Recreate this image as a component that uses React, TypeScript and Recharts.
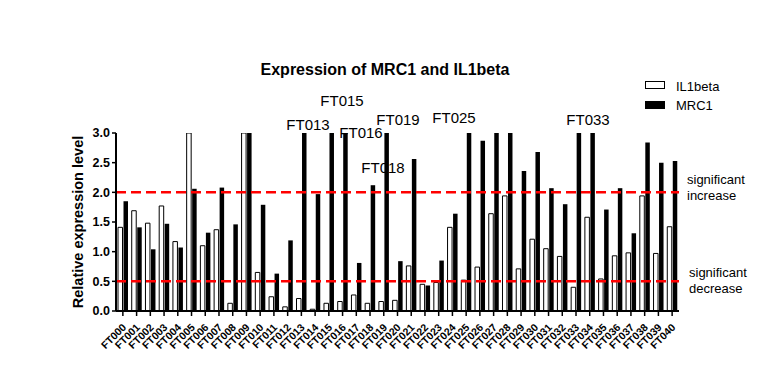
import React from 'react';
import { BarChart, Bar, XAxis, YAxis, ReferenceLine } from 'recharts';

const samples = [
  'FT000', 'FT001', 'FT002', 'FT003', 'FT004', 'FT005', 'FT006', 'FT007', 'FT008', 'FT009',
  'FT010', 'FT011', 'FT012', 'FT013', 'FT014', 'FT015', 'FT016', 'FT017', 'FT018', 'FT019',
  'FT020', 'FT021', 'FT022', 'FT023', 'FT024', 'FT025', 'FT026', 'FT027', 'FT028', 'FT029',
  'FT030', 'FT031', 'FT032', 'FT033', 'FT034', 'FT035', 'FT036', 'FT037', 'FT038', 'FT039',
  'FT040',
];

// values above 3.0 are clipped by the axis in the original
const il1beta = [
  1.41, 1.69, 1.48, 1.77, 1.17, 3.0, 1.1, 1.37, 0.13, 3.0,
  0.65, 0.24, 0.07, 0.21, 0.03, 0.13, 0.16, 0.27, 0.13, 0.16,
  0.18, 0.76, 0.45, 0.48, 1.41, 0.52, 0.74, 1.64, 1.94, 0.71,
  1.21, 1.05, 0.92, 0.4, 1.58, 0.54, 0.93, 0.98, 1.94, 0.97,
  1.42,
];

const mrc1 = [
  1.85, 1.41, 1.04, 1.47, 1.07, 2.06, 1.32, 2.08, 1.46, 3.0,
  1.79, 0.63, 1.19, 3.0, 1.97, 3.0, 3.0, 0.81, 2.12, 3.0,
  0.84, 2.56, 0.43, 0.85, 1.64, 3.0, 2.87, 3.0, 3.0, 2.36,
  2.68, 2.07, 1.8, 3.0, 3.0, 1.71, 2.07, 1.31, 2.84, 2.5,
  2.53,
];

const yTicks = [0, 0.5, 1, 1.5, 2, 2.5, 3];
const thresholds = [2.0, 0.5];

const callouts = ['FT015', 'FT013', 'FT016', 'FT019', 'FT025', 'FT033', 'FT018'];

const data = samples.map((name, i) => ({ name, il1beta: il1beta[i], mrc1: mrc1[i] }));

const font = '"Liberation Sans", Arial, sans-serif';

const XTick = (props: any) => {
  const { x, y, payload } = props;
  return (
    <text
      x={x + 4}
      y={y + 10}
      textAnchor="end"
      transform={`rotate(-45, ${x + 4}, ${y + 10})`}
      fontSize={10.5}
      fontWeight="bold"
      fontFamily={font}
      fill="#000"
    >
      {payload.value}
    </text>
  );
};

const calloutPos: Record<string, [number, number]> = {
  FT015: [342, 106],
  FT013: [308, 130],
  FT016: [361, 138],
  FT019: [398, 125],
  FT025: [454, 123],
  FT033: [588, 125],
  FT018: [383, 173],
};

export default function App() {
  return (
    <div style={{ position: 'absolute', left: 0, top: 0, width: 776, height: 388, background: '#fff', fontFamily: font }}>
      <BarChart
        width={776}
        height={388}
        data={data}
        margin={{ top: 133, right: 97, bottom: 27, left: 56 }}
        barSize={4.5}
        barGap={1}
      >
        <XAxis
          dataKey="name"
          interval={0}
          height={50}
          tick={<XTick />}
          tickSize={5}
          axisLine={{ stroke: '#000', strokeWidth: 2 }}
          tickLine={{ stroke: '#000', strokeWidth: 1.5 }}
        />
        <YAxis
          width={60}
          domain={[0, 3]}
          ticks={yTicks}
          allowDataOverflow
          tickFormatter={(v: number) => v.toFixed(1)}
          tickSize={4}
          tickMargin={2}
          tick={{ fill: '#000', fontSize: 12.5, fontWeight: 'bold', fontFamily: font }}
          axisLine={{ stroke: '#000', strokeWidth: 2 }}
          tickLine={{ stroke: '#000', strokeWidth: 1.5 }}
          label={{
            value: 'Relative expression level',
            angle: -90,
            position: 'insideLeft',
            offset: 0,
            dx: 22,
            style: { textAnchor: 'middle', fontSize: 14.5, fontWeight: 'bold', fill: '#000', fontFamily: font },
          }}
        />
        <Bar dataKey="il1beta" fill="#fff" stroke="#000" strokeWidth={1} isAnimationActive={false} />
        <Bar dataKey="mrc1" fill="#000" isAnimationActive={false} />
        {thresholds.map((t) => (
          <ReferenceLine key={t} y={t} stroke="#ff0000" strokeWidth={2.5} strokeDasharray="10 5" />
        ))}
      </BarChart>

      <div style={{ position: 'absolute', left: 0, width: 770, top: 61, textAlign: 'center', fontSize: 16, fontWeight: 'bold', color: '#000' }}>
        Expression of MRC1 and IL1beta
      </div>

      {callouts.map((c) => (
        <div
          key={c}
          style={{
            position: 'absolute',
            left: calloutPos[c][0] - 40,
            width: 80,
            top: calloutPos[c][1] - 14,
            textAlign: 'center',
            fontSize: 15,
            lineHeight: '17px',
            color: '#000',
          }}
        >
          {c}
        </div>
      ))}

      <div style={{ position: 'absolute', left: 645, top: 81, width: 18, height: 6, border: '1px solid #000', background: '#fff' }} />
      <div style={{ position: 'absolute', left: 676, top: 79, fontSize: 13, lineHeight: '15px' }}>IL1beta</div>
      <div style={{ position: 'absolute', left: 645, top: 101, width: 20, height: 8, background: '#000' }} />
      <div style={{ position: 'absolute', left: 676, top: 98, fontSize: 13, lineHeight: '15px' }}>MRC1</div>

      <div style={{ position: 'absolute', left: 687, top: 172, fontSize: 13, lineHeight: '16px', color: '#000' }}>
        significant<br />increase
      </div>
      <div style={{ position: 'absolute', left: 689, top: 265, fontSize: 13, lineHeight: '16px', color: '#000' }}>
        significant<br />decrease
      </div>
    </div>
  );
}
